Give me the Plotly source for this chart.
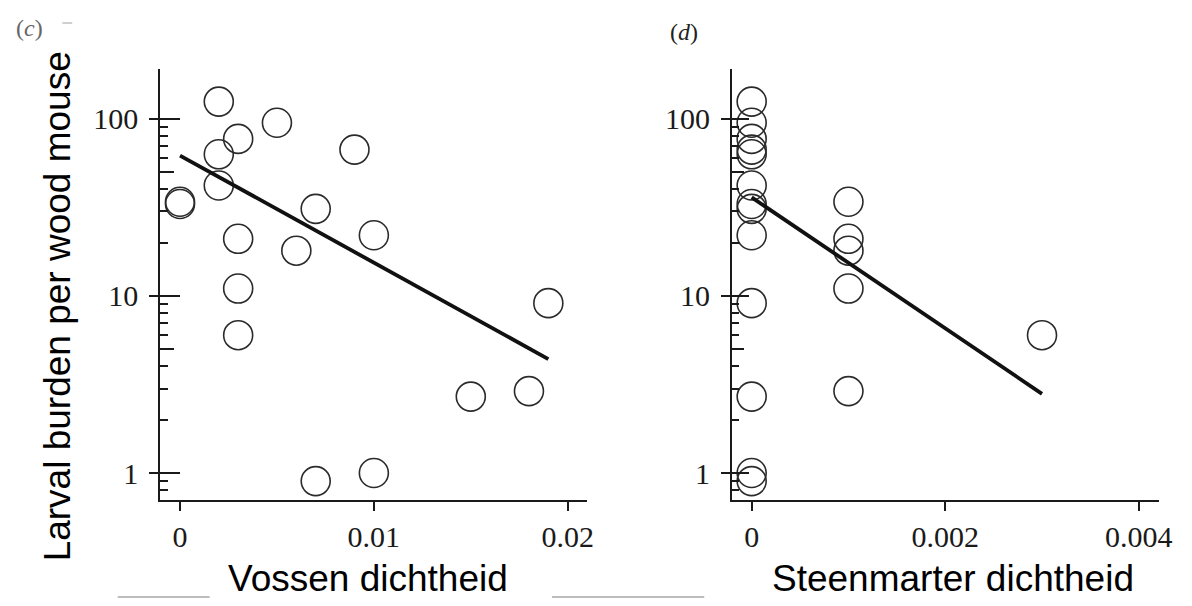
import math
import plotly.graph_objects as go

# ---------------- data ----------------
larval_burden = [125, 95, 77, 63, 67, 42, 34, 33, 31, 21, 22, 18, 11, 9.1, 6.0, 2.7, 2.9, 0.9, 1.0]
fox_density = [0.002, 0.005, 0.003, 0.002, 0.009, 0.002, 0.0, 0.0, 0.007, 0.003, 0.010,
               0.006, 0.003, 0.019, 0.003, 0.015, 0.018, 0.007, 0.010]
marten_density = [0.0, 0.0, 0.0, 0.0, 0.0, 0.0, 0.001, 0.0, 0.0, 0.001, 0.0,
                  0.001, 0.001, 0.0, 0.003, 0.0, 0.001, 0.0, 0.0]

fox_fit_x = [0.0, 0.019]
fox_fit_y = [62, 4.4]
marten_fit_x = [0.0, 0.003]
marten_fit_y = [36, 2.8]

y_major = [1, 10, 100]
y_major_text = ["1", "10", "100"]
y_minor = [0.8, 0.9, 2, 3, 4, 6, 7, 8, 9, 20, 30, 40, 60, 70, 80, 90]
y_mid = [5, 50]
fox_ticks = [0, 0.01, 0.02]
fox_ticktext = ["0", "0.01", "0.02"]
marten_ticks = [0, 0.002, 0.004]
marten_ticktext = ["0", "0.002", "0.004"]

# ---------------- layout helpers ----------------
W, H = 1192, 606
def px(x):
    return x / W
def py(y):
    return 1 - y / H

SERIF = "Liberation Serif, Times New Roman, serif"
SANS = "Liberation Sans, Arial, sans-serif"
INK = "#1a1a1a"

yrange = [math.log10(0.704), math.log10(191)]
ydom = [py(500), py(69)]

fig = go.Figure()

marker = dict(symbol="circle-open", size=29, color="#2b2b2b", line=dict(width=1.6))

fig.add_trace(go.Scatter(x=fox_density, y=larval_burden, mode="markers", marker=marker,
                         xaxis="x", yaxis="y", showlegend=False, hoverinfo="skip"))
fig.add_trace(go.Scatter(x=fox_fit_x, y=fox_fit_y, mode="lines",
                         line=dict(color="#111111", width=3.8),
                         xaxis="x", yaxis="y", showlegend=False, hoverinfo="skip"))
fig.add_trace(go.Scatter(x=marten_density, y=larval_burden, mode="markers", marker=marker,
                         xaxis="x2", yaxis="y2", showlegend=False, hoverinfo="skip"))
fig.add_trace(go.Scatter(x=marten_fit_x, y=marten_fit_y, mode="lines",
                         line=dict(color="#111111", width=3.8),
                         xaxis="x2", yaxis="y2", showlegend=False, hoverinfo="skip"))
# empty traces so the overlay axes get drawn
fig.add_trace(go.Scatter(x=[], y=[], xaxis="x", yaxis="y3", showlegend=False, hoverinfo="skip"))
fig.add_trace(go.Scatter(x=[], y=[], xaxis="x2", yaxis="y4", showlegend=False, hoverinfo="skip"))

tickfont = dict(family=SERIF, size=30, color=INK)

def xaxis(dom, rng, tv, tt, anchor):
    return dict(domain=dom, range=rng, anchor=anchor, showline=True, linewidth=2,
                linecolor=INK, ticks="outside", ticklen=9, tickwidth=2, tickcolor=INK,
                tickmode="array", tickvals=tv, ticktext=tt, tickfont=tickfont,
                showgrid=False, zeroline=False, fixedrange=True)

def yaxis_main(anchor, minor_len):
    return dict(domain=ydom, type="log", range=yrange, anchor=anchor, showline=True,
                linewidth=2, linecolor=INK, ticks="outside", ticklen=9, tickwidth=2,
                tickcolor=INK, tickmode="array", tickvals=y_major, ticktext=y_major_text,
                tickfont=tickfont, ticklabelstandoff=5, showgrid=False, zeroline=False,
                minor=dict(tickmode="array", tickvals=y_minor, ticks="inside",
                           ticklen=minor_len, tickwidth=2, tickcolor=INK, showgrid=False))

def yaxis_overlay(base, anchor, major_len, mid_len):
    return dict(domain=ydom, type="log", range=yrange, anchor=anchor, overlaying=base,
                side="left", showline=False, ticks="inside", ticklen=major_len, tickwidth=2,
                tickcolor=INK, tickmode="array", tickvals=y_major, showticklabels=False,
                showgrid=False, zeroline=False,
                minor=dict(tickmode="array", tickvals=y_mid, ticks="inside",
                           ticklen=mid_len, tickwidth=2, tickcolor=INK, showgrid=False))

def note(text, x, y, family, size, color, angle=0):
    return dict(text=text, x=px(x), y=py(y), xref="paper", yref="paper",
                xanchor="center", yanchor="middle", textangle=angle, showarrow=False,
                font=dict(family=family, size=size, color=color))

fig.update_layout(
    width=W, height=H,
    margin=dict(l=0, r=0, t=0, b=0),
    paper_bgcolor="white", plot_bgcolor="white",
    xaxis=xaxis([px(162), px(593)], [-0.00102, 0.02097], fox_ticks, fox_ticktext, "y"),
    xaxis2=xaxis([px(740), px(1172)], [-0.000204, 0.004211], marten_ticks, marten_ticktext, "y2"),
    yaxis=yaxis_main("x", 8),
    yaxis2=yaxis_main("x2", 7),
    yaxis3=yaxis_overlay("y", "x", 20, 14),
    yaxis4=yaxis_overlay("y2", "x2", 17, 12),
    annotations=[
        note("Larval burden per wood mouse", 58, 306, SANS, 37, "#000", -90),
        note("Vossen dichtheid", 372, 578, SANS, 37, "#000"),
        note("Steenmarter dichtheid", 964, 578, SANS, 37, "#000"),
        note("(<i>c</i>)", 30, 28, SERIF, 24, "#666"),
        note("(<i>d</i>)", 692, 32, SERIF, 24, "#222"),
    ],
    shapes=[
        dict(type="line", xref="paper", yref="paper", x0=px(119), x1=px(212),
             y0=py(597), y1=py(597), line=dict(color="#bdbdbd", width=2)),
        dict(type="line", xref="paper", yref="paper", x0=px(558), x1=px(712),
             y0=py(597), y1=py(597), line=dict(color="#bdbdbd", width=2)),
        dict(type="line", xref="paper", yref="paper", x0=px(63), x1=px(73),
             y0=py(23), y1=py(23), line=dict(color="#d0d0d0", width=2)),
    ],
)

fig.write_html("out.html")
